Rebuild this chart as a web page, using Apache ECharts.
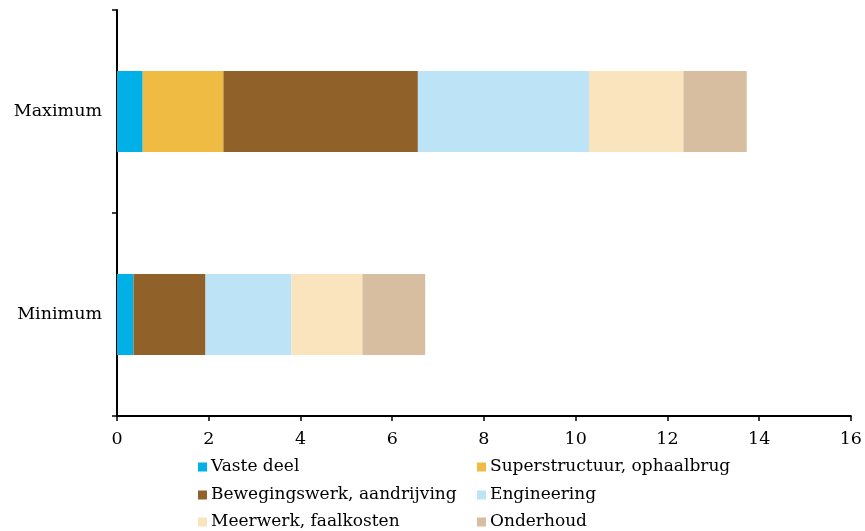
<!DOCTYPE html>
<html><head><meta charset="utf-8">
<script src="https://cdn.jsdelivr.net/npm/echarts@6/dist/echarts.min.js"></script>
<style>html,body{margin:0;padding:0;background:#fff}#c{width:865px;height:531px}</style>
</head><body><div id="c"></div>
<script>
const categories = ['Minimum', 'Maximum'];
const seriesNames = ['Vaste deel', 'Superstructuur, ophaalbrug', 'Bewegingswerk, aandrijving', 'Engineering', 'Meerwerk, faalkosten', 'Onderhoud'];
const vasteDeel = [0.36, 0.56];
const superstructuur = [0, 1.76];
const bewegingswerk = [1.57, 4.24];
const engineering = [1.87, 3.73];
const meerwerk = [1.55, 2.06];
const onderhoud = [1.37, 1.38];
const colors = ['#00b0e6', '#efbb43', '#91612a', '#bde4f6', '#fae4bd', '#d8bea0'];
const xTicks = [0, 16, 2];

const values = [vasteDeel, superstructuur, bewegingswerk, engineering, meerwerk, onderhoud];
const font = 'DejaVu Serif';
const legendPos = [[198, 457], [477, 457], [198, 485], [477, 485], [198, 512], [477, 512]];
const chart = echarts.init(document.getElementById('c'));
chart.setOption({
  animation: false,
  color: colors,
  grid: { left: 117, right: 14, top: 10, bottom: 115, containLabel: false },
  xAxis: {
    type: 'value', min: xTicks[0], max: xTicks[1], interval: xTicks[2],
    axisLine: { show: true, lineStyle: { color: '#000', width: 2 } },
    axisTick: { show: true, length: 5, lineStyle: { color: '#000', width: 1.5 } },
    axisLabel: { color: '#000', fontFamily: font, fontSize: 17.5, margin: 14 },
    splitLine: { show: false }
  },
  yAxis: {
    type: 'category', data: categories,
    axisLine: { lineStyle: { color: '#000', width: 2 } },
    axisTick: { show: true, length: 5, lineStyle: { color: '#000', width: 1.5 } },
    axisLabel: { color: '#000', fontFamily: font, fontSize: 17.5, margin: 15 }
  },
  legend: seriesNames.map((n, i) => ({
    left: legendPos[i][0], top: legendPos[i][1], padding: 0,
    itemWidth: 9, itemHeight: 9, icon: 'rect',
    textStyle: { fontFamily: font, fontSize: 17, color: '#000', lineHeight: 20, padding: [0, 0, 0, -1] },
    data: [n]
  })),
  series: seriesNames.map((n, i) => ({
    name: n, type: 'bar', stack: 'total', barWidth: '40%',
    data: values[i],
    itemStyle: { color: colors[i] }
  }))
});
</script></body></html>
